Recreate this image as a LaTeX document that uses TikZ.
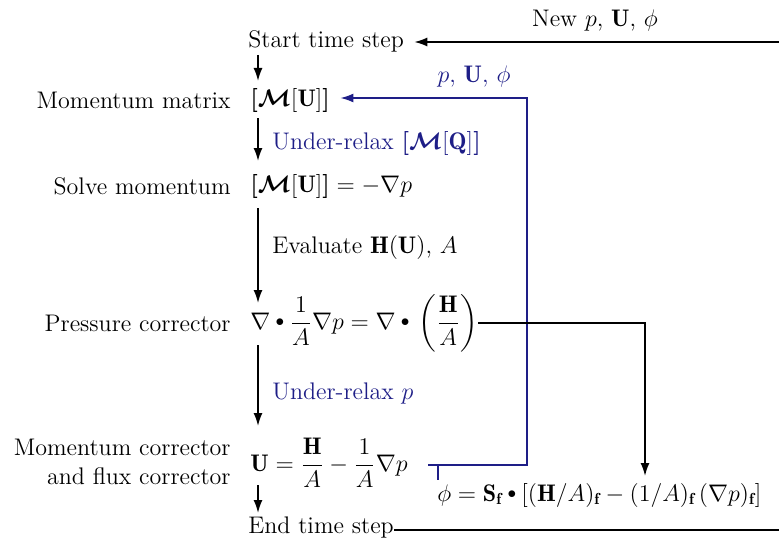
\documentclass[tikz,border=0pt]{standalone}
\usepackage{amsmath,bm,graphicx}
\usepackage{fontspec}
\usetikzlibrary{arrows.meta}
\definecolor{navy}{RGB}{30,30,135}
\newcommand{\dotop}{\mathbin{\vcenter{\hbox{\scalebox{0.72}{$\bullet$}}}}}
\tikzset{
  px/.style={x=0.5pt,y=-0.5pt},
  txt/.style={inner sep=0pt,font=\fontsize{12}{14.5}\selectfont},
  lbl/.style={txt,anchor=east,align=right},
  eq/.style={txt,anchor=west},
  arr/.style={line width=0.85pt,-{Latex[length=6.5pt,width=4.5pt]}},
  ln/.style={line width=0.85pt},
  barr/.style={arr,draw=navy},
  bln/.style={ln,draw=navy},
}
\begin{document}
\begin{tikzpicture}[px]
\useasboundingbox (0,0) rectangle (779,540);
% main column
\node[eq] (start) at (248,41) {Start time step};
\node[eq] (mu) at (250,100) {$\bm{[}\bm{\mathcal{M}}[\mathbf{U}]\bm{]}$};
\node[eq] (solve) at (250,186) {$\bm{[}\bm{\mathcal{M}}[\mathbf{U}]\bm{]} = -\nabla p$};
\node[eq] (press) at (250,323) {$\nabla\dotop\dfrac{1}{A}\nabla p = \nabla\dotop\,\left(\dfrac{\mathbf{H}}{A}\right)$};
\node[eq] (ucorr) at (250,463) {$\mathbf{U} = \dfrac{\mathbf{H}}{A} - \dfrac{1}{A}\nabla p$};
\node[eq] (endt) at (248,527) {End time step};
\node[eq] (phi) at (437,495) {$\phi = \mathbf{S}_{\mathbf{f}}\dotop\left[(\mathbf{H}/A)_{\mathbf{f}} - (1/A)_{\mathbf{f}}\,(\nabla p)_{\mathbf{f}}\right]$};
% left labels
\node[lbl] (lmu) at (231,100) {Momentum matrix};
\node[lbl] (lsolve) at (231,186) {Solve momentum};
\node[lbl] (lpress) at (231,323) {Pressure corrector};
\node[lbl] (lucorr) at (231,462) {Momentum corrector\\and flux corrector};
% arrow labels
\node[txt] (lnew) at (595,21) {New $p$, $\mathbf{U}$, $\phi$};
\node[txt,text=navy] (lpuf) at (474,77) {$p$, $\mathbf{U}$, $\phi$};
\node[eq,text=navy] (lur1) at (272,143) {Under-relax $\bm{[}\bm{\mathcal{M}}[\mathbf{Q}]\bm{]}$};
\node[eq] (leval) at (272,247) {Evaluate $\mathbf{H}(\mathbf{U})$, $A$};
\node[eq,text=navy] (lur2) at (272,393) {Under-relax $p$};
% edge coordinates
\coordinate (rtop) at (779,42);
\coordinate (rbot) at (779,530);
\coordinate (bcorner1) at (527,465);
\coordinate (bcorner2) at (527,98);
\coordinate (ueq) at (428,465);
\coordinate (tick) at (438,465);
\coordinate (tickend) at (438,480);
\coordinate (pcorner) at (645,323);
\coordinate (ptip) at (645,476);
% column arrows
\coordinate (a1) at (258,55);  \coordinate (b1) at (258,81);
\coordinate (a2) at (258,118); \coordinate (b2) at (258,161);
\coordinate (a3) at (258,208); \coordinate (b3) at (258,303);
\coordinate (a4) at (258,345); \coordinate (b4) at (258,426);
\coordinate (a5) at (258,485); \coordinate (b5) at (258,513);
\draw[arr] (a1) -- (b1);
\draw[arr] (a2) -- (b2);
\draw[arr] (a3) -- (b3);
\draw[arr] (a4) -- (b4);
\draw[arr] (a5) -- (b5);
% loops
\draw[arr,shorten >=5pt] (rtop) -- (start.east |- rtop);
\draw[ln] (endt.east |- rbot) -- (rbot);
\draw[barr,shorten >=5pt] (ueq) -- (bcorner1) -- (bcorner2) -- (mu.east |- bcorner2);
\draw[bln] (tick) -- (tickend);
\draw[arr] (press.east |- pcorner) -- (pcorner) -- (ptip);
\end{tikzpicture}
\end{document}
